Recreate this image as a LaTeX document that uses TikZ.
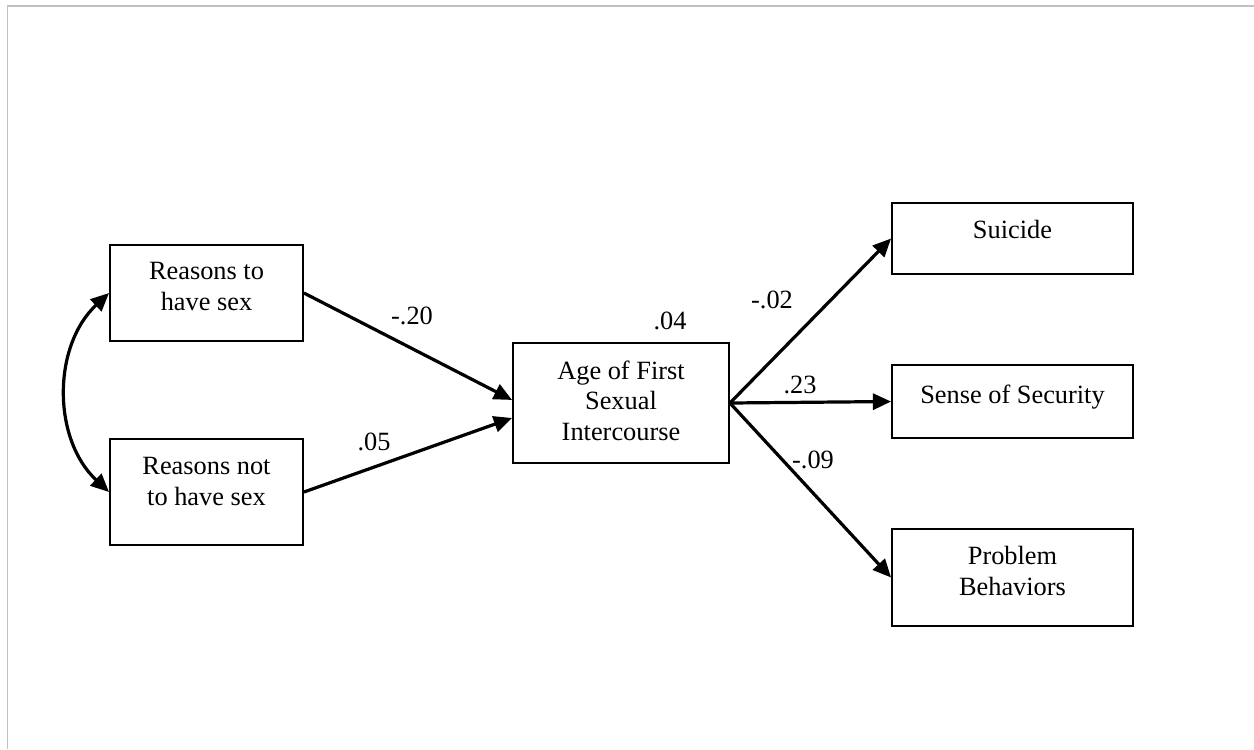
\documentclass[tikz,border=0pt]{standalone}
\usepackage{fontspec}
\setmainfont{Liberation Serif}
\usetikzlibrary{arrows.meta, calc, positioning}
\definecolor{framegray}{HTML}{C0C0C0}
\tikzset{
  % riquadro di una variabile
  varbox/.style={draw=black, line width=0.9pt, rectangle, inner sep=0pt},
  % testo del riquadro (allineato in alto)
  vartext/.style={anchor=north, inner sep=0pt, align=center,
    font=\fontsize{12.3}{14.4}\selectfont},
  % effetto diretto
  effect/.style={-{Triangle[length=8.5pt, width=7.5pt]}, line width=1.5pt},
  % covarianza tra le due variabili esogene
  covar/.style={{Triangle[length=8.5pt, width=7.5pt]}-{Triangle[length=8.5pt, width=7.5pt]},
    line width=1.5pt},
  % coefficienti
  coef/.style={font=\fontsize{12.3}{14}\selectfont, inner sep=0pt},
  % cornice grigia
  border line/.style={draw=framegray, line width=0.8pt},
}
\newcommand{\varnode}[6]{%
  \node[varbox, minimum width=#3, minimum height=#4] (#1) at (#2) {};
  \node[vartext] (#1-t) at ($(#1.north)+(0,#5)$) {#6};
}

\begin{document}
\begin{tikzpicture}[x=0.0164cm, y=-0.0164cm]
  \useasboundingbox (0,0) rectangle (1254,749);
  \coordinate (corner) at (7.5,6);
  \draw[border line] (1254,6) -- (corner) -- (7.5,749);
  \varnode{rto}{206.5,293}{3.165cm}{1.574cm}{18}{Reasons to\\have sex}
  \varnode{rnot}{206.5,492}{3.165cm}{1.738cm}{19}{Reasons not\\to have sex}
  \varnode{age}{621,403}{3.542cm}{1.968cm}{18}{Age of First\\Sexual\\Intercourse}
  \varnode{suic}{1012.5,238.5}{3.952cm}{1.164cm}{18}{Suicide}
  \varnode{secu}{1012.5,401.5}{3.952cm}{1.197cm}{20}{Sense of Security}
  \varnode{prob}{1012.5,577.5}{3.952cm}{1.591cm}{18}{Problem\\Behaviors}
  \draw[covar] (rto.west) to[bend right=47] (rnot.west);
  \draw[effect] (rto.east) -- ([yshift=0.05cm]age.west);
  \draw[effect] (rnot.east) -- ([yshift=-0.246cm]age.west);
  \draw[effect] (age.east) -- (suic.west);
  \draw[effect] (age.east) -- (secu.west);
  \draw[effect] (age.east) -- (prob.west);
  \node[coef] (c20) at (412,316) {-.20};
  \node[coef] (c05) at (374,442) {.05};
  \node[coef] (r2) at (670,321) {.04};
  \node[coef] (c02) at (772,300) {-.02};
  \node[coef] (c23) at (800,385) {.23};
  \node[coef] (c09) at (813,460) {-.09};
\end{tikzpicture}
\end{document}
